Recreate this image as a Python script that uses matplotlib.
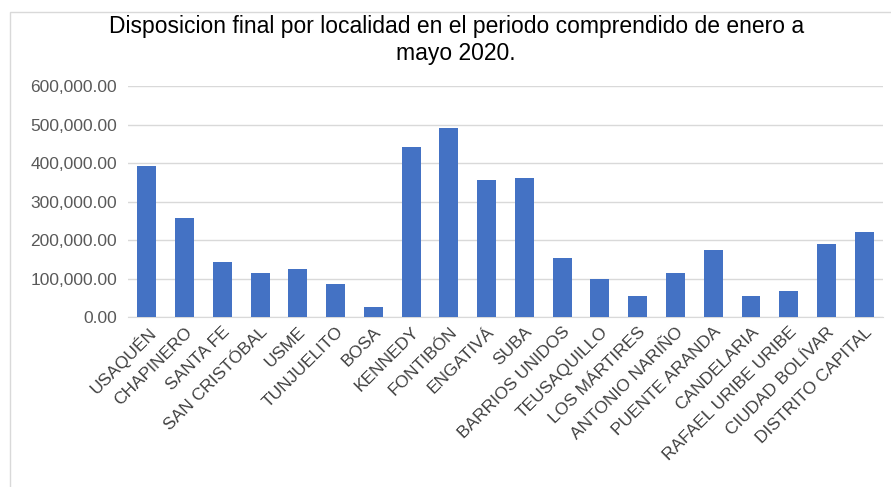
import numpy as np
import matplotlib.pyplot as plt
from matplotlib.ticker import FuncFormatter
from matplotlib.patches import Rectangle

# localidades y disposicion final (ene-may 2020)
localidades = ['USAQUÉN', 'CHAPINERO', 'SANTA FE', 'SAN CRISTÓBAL', 'USME',
               'TUNJUELITO', 'BOSA', 'KENNEDY', 'FONTIBÓN', 'ENGATIVÁ', 'SUBA',
               'BARRIOS UNIDOS', 'TEUSAQUILLO', 'LOS MÁRTIRES', 'ANTONIO NARIÑO',
               'PUENTE ARANDA', 'CANDELARIA', 'RAFAEL URIBE URIBE',
               'CIUDAD BOLÍVAR', 'DISTRITO CAPITAL']
valores = [392000, 257000, 143000, 114000, 125000, 86000, 26000, 442000,
           490000, 355000, 361000, 153000, 99000, 56000, 114000, 174000,
           54000, 69000, 191000, 220000]
yticks = [0, 100000, 200000, 300000, 400000, 500000, 600000]

plt.rcParams['font.family'] = ['Liberation Sans', 'DejaVu Sans']

fig = plt.figure(figsize=(8.91, 4.87), dpi=100)
ax = fig.add_axes([0.1437, 0.3485, 0.8474, 0.4749])

x = np.arange(len(localidades))
ax.bar(x, valores, width=0.5, color='#4472C4', zorder=3)

ax.set_xlim(-0.5, len(localidades) - 0.5)
ax.set_ylim(0, 600000)
ax.set_yticks(yticks)
ax.yaxis.set_major_formatter(FuncFormatter(lambda v, p: '{:,.2f}'.format(v)))
ax.grid(axis='y', color='#d9d9d9', linewidth=1, zorder=0)

for s in ['top', 'right', 'left']:
    ax.spines[s].set_visible(False)
ax.spines['bottom'].set_color('#d9d9d9')

ax.set_xticks(x)
ax.set_xticklabels(localidades, rotation=45, ha='right',
                   rotation_mode='anchor', fontsize=12.5, color='#404040')
ax.tick_params(axis='x', length=0, pad=5)
ax.tick_params(axis='y', length=0, labelsize=12.5, labelcolor='#595959', pad=8)

fig.text(0.512, 0.918, 'Disposicion final por localidad en el periodo comprendido de enero a\nmayo 2020.',
         ha='center', va='center', fontsize=16.5, color='black', linespacing=1.2)

# marco exterior
fig.patches.append(Rectangle((0.011, -0.1), 1.1, 1.075, transform=fig.transFigure,
                             fill=False, edgecolor='#d9d9d9', linewidth=1))

plt.savefig('out.png', dpi=100)
